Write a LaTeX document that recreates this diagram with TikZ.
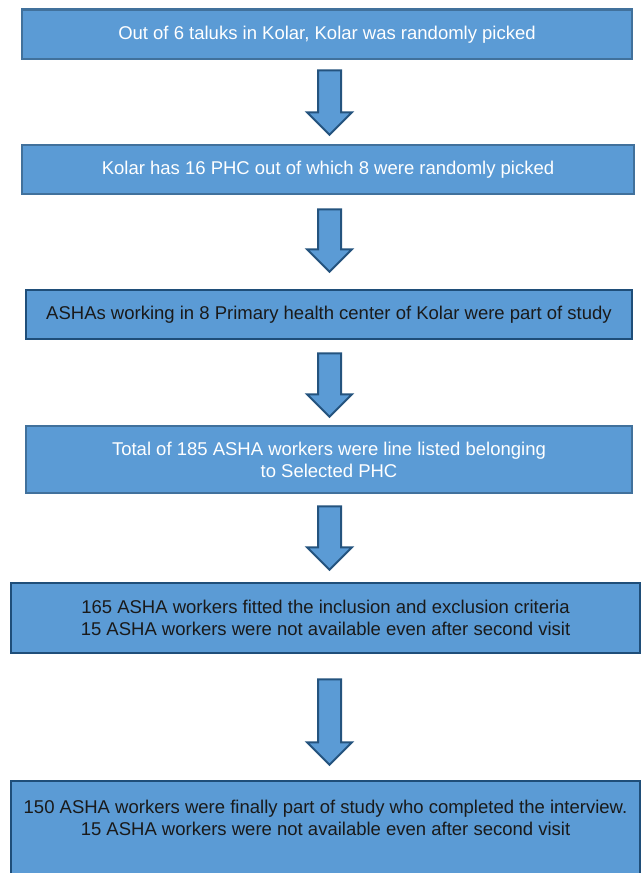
\documentclass[tikz,border=0pt]{standalone}
\usepackage{fontspec}
\setmainfont{Liberation Sans}
\usepackage{xcolor}
\usetikzlibrary{calc}
\definecolor{boxblue}{HTML}{5B9BD5}
\definecolor{edgeblue}{HTML}{41719C}
\definecolor{edgedark}{HTML}{1F4E79}
\definecolor{textdark}{HTML}{1A1A1A}
\newcommand{\blockdown}[4]{%
    \draw[blockarrow] let \p1=(#1.south), \p2=(#2.north) in
        (318pt,\y1-#3) -- (341pt,\y1-#3) -- (341pt,\y2+#4+22.5pt) -- (352pt,\y2+#4+22.5pt)
        -- (329.5pt,\y2+#4) -- (307pt,\y2+#4+22.5pt) -- (318pt,\y2+#4+22.5pt) -- cycle;}

\begin{document}
\begin{tikzpicture}[x=1pt, y=1pt,
    stagebox/.style={draw=edgeblue, fill=boxblue, line width=2.5pt, inner sep=0pt,
        align=center, font=\fontsize{18.5}{22}\selectfont, text=white},
    darkbox/.style={stagebox, draw=edgedark, text=textdark},
    blockarrow/.style={draw=edgedark!85!edgeblue, fill=boxblue, line width=2pt, line join=miter}]
    \useasboundingbox (0,0) rectangle (641,-873);
    \node[stagebox, minimum width=610pt, minimum height=49.5pt] (taluk) at (327,-34.25)
        {Out of 6 taluks in Kolar, Kolar was randomly picked};
    \node[stagebox, minimum width=612pt, minimum height=49pt] (phc) at (328,-169.5)
        {Kolar has 16 PHC out of which 8 were randomly picked};
    \node[darkbox, minimum width=606pt, minimum height=49pt] (asha) at (329,-314.5)
        {ASHAs working in 8 Primary health center of Kolar were part of study};
    \node[stagebox, minimum width=606pt, minimum height=67pt] (listed) at (329,-459.5)
        {Total of 185 ASHA workers were line listed belonging\\to Selected PHC};
    \node[darkbox, minimum width=629pt, minimum height=70pt] (criteria) at (325.5,-618)
        {165 ASHA workers fitted the inclusion and exclusion criteria\\15 ASHA workers were not available even after second visit};
    \node[darkbox, minimum width=629pt, minimum height=96pt] (final) at (325.5,-829)
        {150 ASHA workers were finally part of study who completed the interview.\\15 ASHA workers were not available even after second visit\\\mbox{}};
    \blockdown{taluk}{phc}{10pt}{9pt}
    \blockdown{phc}{asha}{14pt}{17pt}
    \blockdown{asha}{listed}{13pt}{8pt}
    \blockdown{listed}{criteria}{12pt}{12pt}
    \blockdown{criteria}{final}{25pt}{15pt}
\end{tikzpicture}
\end{document}
